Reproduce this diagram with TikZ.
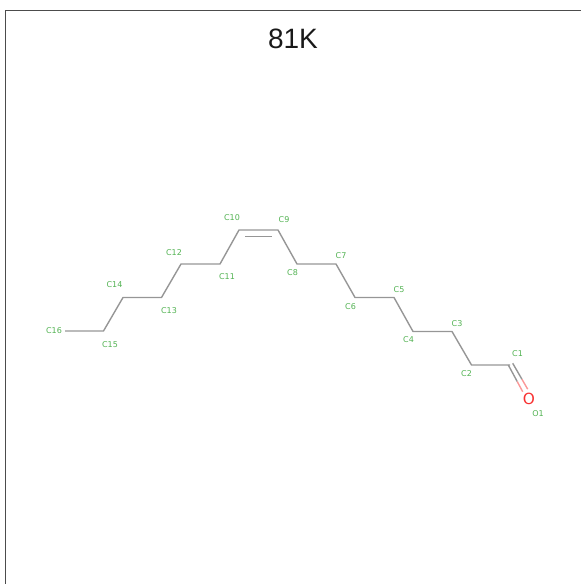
\documentclass[tikz,border=0pt]{standalone}
\usepackage{fontspec}
\setmainfont{Liberation Sans}
\newfontfamily\labelfont{DejaVu Sans}
\usetikzlibrary{calc}
\definecolor{atomgreen}{RGB}{82,178,82}
\definecolor{bondgray}{RGB}{150,150,150}
\definecolor{oxred}{RGB}{248,50,50}
\tikzset{
  atomlabel/.style={text=atomgreen,font=\labelfont\fontsize{6}{6}\selectfont,inner sep=0pt,yshift=-0.4pt},
  bond/.style={draw=bondgray,line width=1.05pt,line join=round},
  oxbond/.style={draw=oxred!50!white,line width=1.05pt},
  framerule/.style={draw=black!70,line width=1pt},
  titletext/.style={font=\fontsize{21}{21}\selectfont,text=black!90,inner sep=0pt},
  oxygen/.style={text=oxred,font=\labelfont\fontsize{11.5}{11.5}\selectfont,inner sep=0pt}
}
\begin{document}
\begin{tikzpicture}[x=0.75pt,y=-0.75pt]
\useasboundingbox (0,0) rectangle (581,584);
\coordinate (fa) at (5.5,584);
\coordinate (fb) at (5.5,10.5);
\coordinate (fc) at (581,10.5);
\draw[framerule] (fa) -- (fb) -- (fc);
\node[titletext] (title) at (293,38.5) {81K};
\coordinate (c16) at (65,331);
\coordinate (c15) at (103.5,331);
\coordinate (c14) at (123,297.5);
\coordinate (c13) at (161.5,297.5);
\coordinate (c12) at (181,264);
\coordinate (c11) at (220,264);
\coordinate (c10) at (239,230);
\coordinate (c9) at (278,230);
\coordinate (c8) at (297,264);
\coordinate (c7) at (336,264);
\coordinate (c6) at (355,297.5);
\coordinate (c5) at (394,297.5);
\coordinate (c4) at (413,331.5);
\coordinate (c3) at (452,331.5);
\coordinate (c2) at (471.5,365);
\coordinate (c1) at (510,365);
\node[oxygen] (o1) at (529,398.7) {O};
\draw[bond] (c16) -- (c15) -- (c14) -- (c13) -- (c12) -- (c11) -- (c10) -- (c9) -- (c8) -- (c7) -- (c6) -- (c5) -- (c4) -- (c3) -- (c2) -- (c1);
\draw[bond] ($(c10)!.16!(c9)+(0,6.7)$) -- ($(c10)!.84!(c9)+(0,6.7)$);
\coordinate (d1a) at ($(c1)+(-1.7,0)$);
\coordinate (d1b) at ($(o1)+(-6.3,-7)$);
\coordinate (d2a) at ($(c1)+(2.7,-1.7)$);
\coordinate (d2b) at ($(o1)+(-1.3,-9.5)$);
\draw[bond] (d1a) -- ($(d1a)!.62!(d1b)$);
\draw[oxbond] ($(d1a)!.62!(d1b)$) -- (d1b);
\draw[bond] (d2a) -- ($(d2a)!.62!(d2b)$);
\draw[oxbond] ($(d2a)!.62!(d2b)$) -- (d2b);
\node[atomlabel] (l1) at (517.5,353.5) {C1};
\node[atomlabel] (l2) at (466.5,373) {C2};
\node[atomlabel] (l3) at (457,323.5) {C3};
\node[atomlabel] (l4) at (408.5,339) {C4};
\node[atomlabel] (l5) at (399,289.5) {C5};
\node[atomlabel] (l6) at (350.5,306) {C6};
\node[atomlabel] (l7) at (341,255.5) {C7};
\node[atomlabel] (l8) at (292.5,272.5) {C8};
\node[atomlabel] (l9) at (284,219) {C9};
\node[atomlabel] (l10) at (232,217.5) {C10};
\node[atomlabel] (l11) at (227,276) {C11};
\node[atomlabel] (l12) at (174,252) {C12};
\node[atomlabel] (l13) at (169,310) {C13};
\node[atomlabel] (l14) at (114.5,284.5) {C14};
\node[atomlabel] (l15) at (110,344) {C15};
\node[atomlabel] (l16) at (54,330.5) {C16};
\node[atomlabel] (lo) at (538,413) {O1};
\end{tikzpicture}
\end{document}
